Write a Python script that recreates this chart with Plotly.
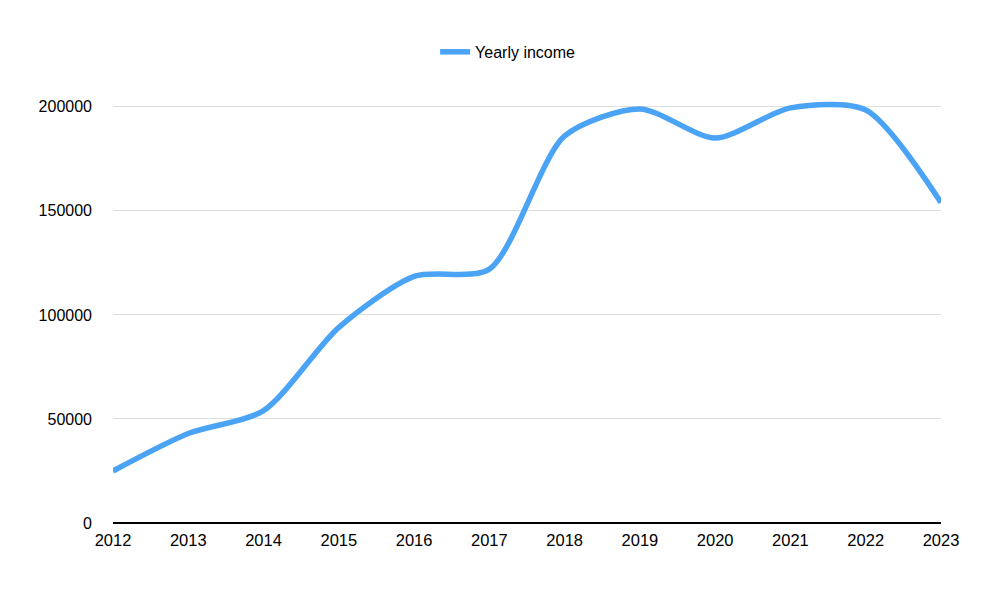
import plotly.graph_objects as go

years = [2012, 2013, 2014, 2015, 2016, 2017, 2018, 2019, 2020, 2021, 2022, 2023]
income = [25000, 43000, 54000, 94000, 118500, 122000, 186000, 199000, 185000, 199500, 198500, 154000]
y_ticks = [0, 50000, 100000, 150000, 200000]

fig = go.Figure()
fig.add_trace(go.Scatter(
    x=years, y=income, mode="lines", name="Yearly income",
    line=dict(color="#4ba3f6", width=5.5, shape="spline", smoothing=0.75),
))

fig.update_layout(
    width=1000, height=600,
    paper_bgcolor="white", plot_bgcolor="white",
    margin=dict(l=105, r=67, t=78, b=85),
    font=dict(family="Liberation Sans, Arial, Helvetica, sans-serif", color="black", size=16),
    showlegend=True,
    legend=dict(orientation="h", x=0.389, xanchor="left", y=1.078, yanchor="middle",
                font=dict(size=16), itemwidth=30),
    xaxis=dict(
        range=[2012, 2023], tickvals=years, ticktext=[str(y) for y in years],
        showgrid=False, zeroline=False, showline=False, ticks="",
        tickfont=dict(size=16.5), ticklabelstandoff=5, fixedrange=True,
    ),
    yaxis=dict(
        range=[0, 210000], tickvals=y_ticks, tickformat="d",
        showgrid=True, gridcolor="#dedede", gridwidth=1,
        zeroline=True, zerolinecolor="black", zerolinewidth=2,
        showline=False, ticks="", tickfont=dict(size=16), ticklabelstandoff=20,
    ),
)

fig.write_html("out.html")
